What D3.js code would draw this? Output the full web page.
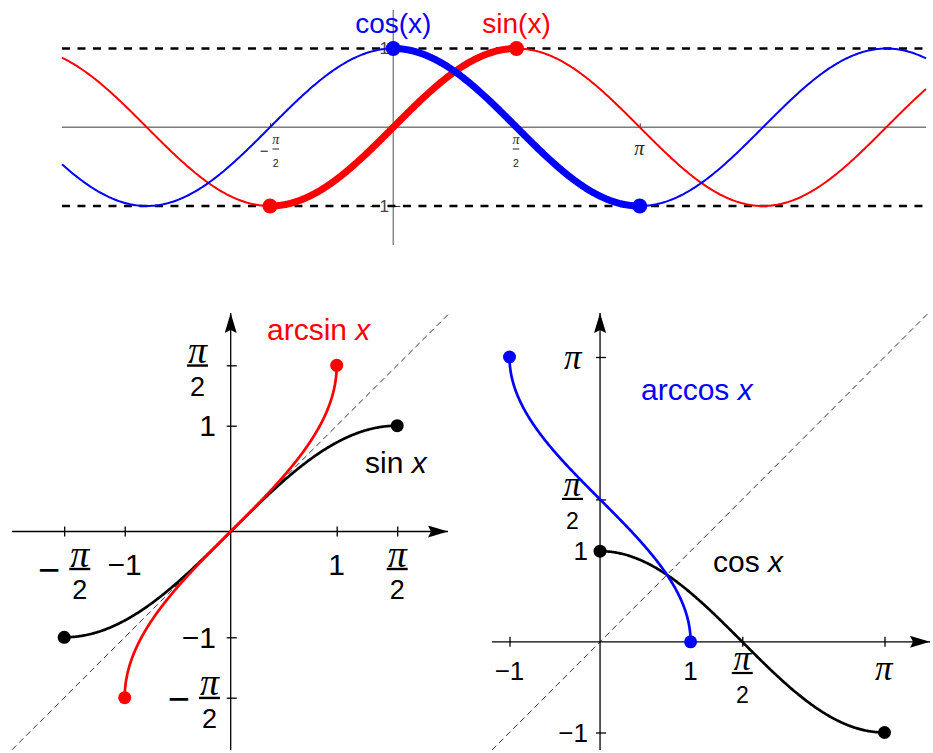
<!DOCTYPE html>
<html>
<head>
<meta charset="utf-8">
<script src="https://cdn.jsdelivr.net/npm/d3@7"></script>
<style>
  html, body { margin: 0; padding: 0; background: #fff; }
  svg { display: block; }
</style>
</head>
<body>
<svg id="chart" width="933" height="753"></svg>
<script>
const PI = Math.PI;

// ---- top panel: sin and cos over several periods ----
const waveXDomain = [-4.222, 6.79];
const waveXTicks = [-PI / 2, PI / 2, PI];
const waveXTickLabels = ["−π/2", "π/2", "π"];
const waveYTicks = [1, -1];
const waveYTickLabels = ["1", "−1"];
const waveGuides = [1, -1];                 // dashed lines y = ±1
const sinBranch = [-PI / 2, PI / 2];        // restricted domain of sin
const cosBranch = [0, PI];                  // restricted domain of cos
const waveTitles = ["cos(x)", "sin(x)"];
const waveTitleAt = [0, PI / 2];

// ---- bottom left: sin x and its inverse ----
const asXTicks = [-PI / 2, -1, 1, PI / 2];
const asXTickLabels = ["−π/2", "−1", "1", "π/2"];
const asYTicks = [PI / 2, 1, -1, -PI / 2];
const asYTickLabels = ["π/2", "1", "−1", "−π/2"];
const asBranch = [-PI / 2, PI / 2];

// ---- bottom right: cos x and its inverse ----
const acXTicks = [-1, 1, PI / 2, PI];
const acXTickLabels = ["−1", "1", "π/2", "π"];
const acYTicks = [PI, PI / 2, 1, -1];
const acYTickLabels = ["π", "π/2", "1", "−1"];
const acBranch = [0, PI];

const RED = "#ff0000", BLUE = "#0000ff", BLACK = "#000000";
const SANS = "'Liberation Sans', Arial, Helvetica, sans-serif";
const SERIF = "'Liberation Serif', 'Times New Roman', serif";

const svg = d3.select("#chart");

// arrow heads for the bottom axes
svg.append("defs").append("marker")
  .attr("id", "arrow")
  .attr("viewBox", "0 0 20 12")
  .attr("refX", 20).attr("refY", 6)
  .attr("markerWidth", 20).attr("markerHeight", 12)
  .attr("markerUnits", "userSpaceOnUse")
  .attr("orient", "auto")
  .append("path").attr("d", "M0,0 L20,6 L0,12 L3,6 Z").attr("fill", BLACK);

// parametric sampling of a curve t -> [x(t), y(t)]
function trace(fx, fy, [a, b], n = 300) {
  return d3.range(n + 1).map(i => {
    const t = a + (b - a) * i / n;
    return [fx(t), fy(t)];
  });
}

// tick label: plain text, or a stacked fraction such as "π/2"
function makeLabel(g, label, st) {
  const grp = g.append("g");
  const neg = label.startsWith("−");
  const body = neg ? label.slice(1) : label;
  let kind = "plain";
  if (body.includes("/")) {
    kind = neg ? "negfrac" : "frac";
    const [num, den] = body.split("/");
    const part = (s, y) => {
      const t = grp.append("text").attr("x", 0).attr("y", y)
        .attr("text-anchor", "middle").attr("fill", st.color);
      if (s === "π") t.style("font-family", SERIF).style("font-style", "italic")
        .style("font-size", st.fracPi + "px");
      else t.style("font-family", SANS).style("font-size", st.fracDigit + "px");
      t.text(s);
    };
    part(num, -st.numGap);
    part(den, st.denBase);
    grp.append("line")
      .attr("x1", -st.bar / 2).attr("x2", st.bar / 2)
      .attr("y1", 0).attr("y2", 0)
      .attr("stroke", st.color).attr("stroke-width", st.barW);
    if (neg) {
      grp.append("text")
        .attr("x", -st.bar / 2 - st.minusGap)
        .attr("y", st.minusDy)
        .attr("text-anchor", "end").attr("fill", st.color)
        .style("font-family", SANS).style("font-size", st.minusSize + "px")
        .text("−");
    }
  } else {
    const t = grp.append("text").attr("x", 0).attr("y", 0)
      .attr("text-anchor", "middle").attr("fill", st.color)
      .style("font-family", SANS).style("font-size", st.digit + "px");
    if (neg) t.append("tspan").text("−");
    if (body === "π") {
      kind = "pi";
      t.append("tspan").style("font-family", SERIF).style("font-style", "italic")
        .style("font-size", st.piSolo + "px").text("π");
    } else {
      t.append("tspan").text(body);
    }
  }
  return { grp, kind };
}

function xLabels(g, ticks, labels, scale, st) {
  ticks.forEach((v, i) => {
    const { grp, kind } = makeLabel(g, labels[i], st);
    const bb = grp.node().getBBox();
    const dx = scale(v) - (bb.x + bb.width / 2);
    const dy = kind.endsWith("frac") ? st.base - st.barRaise : st.base;
    grp.attr("transform", `translate(${dx},${dy})`);
  });
}

function yLabels(g, ticks, labels, scale, st) {
  const shift = st.shift || {};
  ticks.forEach((v, i) => {
    const { grp, kind } = makeLabel(g, labels[i], st);
    const bb = grp.node().getBBox();
    const dx = st.right - (bb.x + bb.width) + (shift[kind] || 0);
    const dy = scale(v) - (bb.y + bb.height / 2);
    grp.attr("transform", `translate(${dx},${dy})`);
  });
}

// function name with italic variable, e.g. "arcsin x"
function fnLabel(g, name, x, y, color, size) {
  const t = g.append("text").attr("x", x).attr("y", y).attr("fill", color)
    .style("font-family", SANS).style("font-size", size + "px");
  t.append("tspan").text(name + " ");
  t.append("tspan").style("font-style", "italic").text("x");
}

/* =================== TOP PANEL =================== */
(function () {
  const g = svg.append("g");
  const x = d3.scaleLinear().domain([-PI / 2, PI / 2]).range([270, 516.5]);
  const y = d3.scaleLinear().domain([-1, 1]).range([206, 48.5]);
  const AXIS = "#7a7a7a";
  const [x0, x1] = waveXDomain.map(x);

  // axes
  g.append("line").attr("x1", x0).attr("x2", x1).attr("y1", y(0)).attr("y2", y(0))
    .attr("stroke", AXIS).attr("stroke-width", 1.3);
  g.append("line").attr("x1", x(0)).attr("x2", x(0)).attr("y1", 10).attr("y2", 245)
    .attr("stroke", AXIS).attr("stroke-width", 1.3);

  const xa = g.append("g").attr("transform", `translate(0,${y(0)})`)
    .call(d3.axisTop(x).tickValues(waveXTicks).tickSize(4).tickFormat(""));
  xa.select(".domain").remove();
  xa.selectAll(".tick line").attr("stroke", "#444");

  const ya = g.append("g").attr("transform", `translate(${x(0)},0)`)
    .call(d3.axisRight(y).tickValues(waveYTicks).tickSize(7).tickFormat(""));
  ya.select(".domain").remove();
  ya.selectAll(".tick line").attr("stroke", "#333");

  xLabels(g, waveXTicks, waveXTickLabels, x, {
    color: "#222", base: 155, barRaise: 6, digit: 14, piSolo: 20,
    fracDigit: 10.5, fracPi: 14, numGap: 5, denBase: 18, bar: 6.5, barW: 1,
    minusSize: 15, minusGap: 4, minusDy: 7
  });
  yLabels(g, waveYTicks, waveYTickLabels, y, { color: "#444", digit: 17, right: 389 });

  // dashed guides at ±1
  g.selectAll(".guide").data(waveGuides).join("line")
    .attr("x1", x0).attr("x2", x1).attr("y1", d => y(d)).attr("y2", d => y(d))
    .attr("stroke", BLACK).attr("stroke-width", 2.6).attr("stroke-dasharray", "8,7.5");

  const line = d3.line().x(d => x(d[0])).y(d => y(d[1]));
  const id = t => t;

  // full-period thin curves
  g.append("path").datum(trace(id, Math.sin, waveXDomain, 600)).attr("d", line)
    .attr("fill", "none").attr("stroke", RED).attr("stroke-width", 2);
  g.append("path").datum(trace(id, Math.cos, waveXDomain, 600)).attr("d", line)
    .attr("fill", "none").attr("stroke", BLUE).attr("stroke-width", 2);

  // restricted (invertible) pieces
  g.append("path").datum(trace(id, Math.sin, sinBranch)).attr("d", line)
    .attr("fill", "none").attr("stroke", RED).attr("stroke-width", 7);
  g.append("path").datum(trace(id, Math.cos, cosBranch)).attr("d", line)
    .attr("fill", "none").attr("stroke", BLUE).attr("stroke-width", 7);

  sinBranch.forEach(t => g.append("circle").attr("cx", x(t)).attr("cy", y(Math.sin(t))).attr("r", 7.5).attr("fill", RED));
  cosBranch.forEach(t => g.append("circle").attr("cx", x(t)).attr("cy", y(Math.cos(t))).attr("r", 7.5).attr("fill", BLUE));

  const colors = [BLUE, RED];
  waveTitles.forEach((s, i) => g.append("text")
    .attr("x", x(waveTitleAt[i])).attr("y", 33).attr("text-anchor", "middle")
    .attr("fill", colors[i]).style("font-family", SANS).style("font-size", "28px").text(s));
})();

/* =================== BOTTOM LEFT =================== */
(function () {
  const g = svg.append("g");
  const x = d3.scaleLinear().domain([-1, 1]).range([124.7, 336.7]);
  const y = d3.scaleLinear().domain([-1, 1]).range([637.3, 425.7]);
  const [L, R, T, B] = [12, 448, 313, 750];

  // y = x reference
  const d0 = x.invert(L), d1 = x.invert(450);
  g.append("line").attr("x1", x(d0)).attr("y1", y(d0)).attr("x2", x(d1)).attr("y2", y(d1))
    .attr("stroke", "#333").attr("stroke-width", 1).attr("stroke-dasharray", "6,4");

  g.append("line").attr("x1", L).attr("x2", R).attr("y1", y(0)).attr("y2", y(0))
    .attr("stroke", BLACK).attr("stroke-width", 1.3).attr("marker-end", "url(#arrow)");
  g.append("line").attr("x1", x(0)).attr("x2", x(0)).attr("y1", B).attr("y2", T)
    .attr("stroke", BLACK).attr("stroke-width", 1.3).attr("marker-end", "url(#arrow)");

  const xa = g.append("g").attr("transform", `translate(0,${y(0) + 5})`)
    .call(d3.axisTop(x).tickValues(asXTicks).tickSize(10).tickFormat(""));
  xa.select(".domain").remove();
  xa.selectAll(".tick line").attr("stroke-width", 1.3);
  const ya = g.append("g").attr("transform", `translate(${x(0) - 4},0)`)
    .call(d3.axisRight(y).tickValues(asYTicks).tickSize(10).tickFormat(""));
  ya.select(".domain").remove();
  ya.selectAll(".tick line").attr("stroke-width", 1.3);

  const lab = {
    color: BLACK, digit: 30, piSolo: 38, fracDigit: 27, fracPi: 38,
    numGap: 2.5, denBase: 30, bar: 21, barW: 2.4,
    minusSize: 38, minusGap: 9, minusDy: 14
  };
  xLabels(g, asXTicks, asXTickLabels, x, Object.assign({ base: 575, barRaise: 6 }, lab));
  yLabels(g, asYTicks, asYTickLabels, y,
    Object.assign({ right: 216, shift: { frac: -8, negfrac: 4 } }, lab));

  const line = d3.line().x(d => x(d[0])).y(d => y(d[1]));
  const sinPts = trace(t => t, Math.sin, asBranch);
  const asinPts = trace(Math.sin, t => t, asBranch);
  g.append("path").datum(sinPts).attr("d", line).attr("fill", "none")
    .attr("stroke", BLACK).attr("stroke-width", 2.7);
  g.append("path").datum(asinPts).attr("d", line).attr("fill", "none")
    .attr("stroke", RED).attr("stroke-width", 2.7);
  [sinPts[0], sinPts[sinPts.length - 1]].forEach(p =>
    g.append("circle").attr("cx", x(p[0])).attr("cy", y(p[1])).attr("r", 6.5).attr("fill", BLACK));
  [asinPts[0], asinPts[asinPts.length - 1]].forEach(p =>
    g.append("circle").attr("cx", x(p[0])).attr("cy", y(p[1])).attr("r", 6.5).attr("fill", RED));

  fnLabel(g, "arcsin", 267, 340, RED, 30);
  fnLabel(g, "sin", 365, 473, BLACK, 30);
})();

/* =================== BOTTOM RIGHT =================== */
(function () {
  const g = svg.append("g");
  const x = d3.scaleLinear().domain([-1, PI]).range([509.5, 884.5]);
  const y = d3.scaleLinear().domain([-1, PI]).range([732.5, 357]);
  const [L, R, T, B] = [492, 930, 313, 750];

  const d0 = x.invert(L), d1 = x.invert(930);
  g.append("line").attr("x1", x(d0)).attr("y1", y(d0)).attr("x2", x(d1)).attr("y2", y(d1))
    .attr("stroke", "#333").attr("stroke-width", 1).attr("stroke-dasharray", "6,4");

  g.append("line").attr("x1", L).attr("x2", R).attr("y1", y(0)).attr("y2", y(0))
    .attr("stroke", BLACK).attr("stroke-width", 1.3).attr("marker-end", "url(#arrow)");
  g.append("line").attr("x1", x(0)).attr("x2", x(0)).attr("y1", B).attr("y2", T)
    .attr("stroke", BLACK).attr("stroke-width", 1.3).attr("marker-end", "url(#arrow)");

  const xa = g.append("g").attr("transform", `translate(0,${y(0) + 5})`)
    .call(d3.axisTop(x).tickValues(acXTicks).tickSize(10).tickFormat(""));
  xa.select(".domain").remove();
  xa.selectAll(".tick line").attr("stroke-width", 1.3);
  const ya = g.append("g").attr("transform", `translate(${x(0) - 4},0)`)
    .call(d3.axisRight(y).tickValues(acYTicks).tickSize(10).tickFormat(""));
  ya.select(".domain").remove();
  ya.selectAll(".tick line").attr("stroke-width", 1.3);

  const lab = {
    color: BLACK, digit: 26, piSolo: 35, fracDigit: 23, fracPi: 35,
    numGap: 3, denBase: 30, bar: 21, barW: 2.2,
    minusSize: 32, minusGap: 8, minusDy: 12
  };
  xLabels(g, acXTicks, acXTickLabels, x, Object.assign({ base: 680, barRaise: 7 }, lab));
  yLabels(g, acYTicks, acYTickLabels, y,
    Object.assign({ right: 588, shift: { frac: -5, pi: -5 } }, lab));

  const line = d3.line().x(d => x(d[0])).y(d => y(d[1]));
  const cosPts = trace(t => t, Math.cos, acBranch);
  const acosPts = trace(Math.cos, t => t, acBranch);
  g.append("path").datum(cosPts).attr("d", line).attr("fill", "none")
    .attr("stroke", BLACK).attr("stroke-width", 2.7);
  g.append("path").datum(acosPts).attr("d", line).attr("fill", "none")
    .attr("stroke", BLUE).attr("stroke-width", 2.7);
  [cosPts[0], cosPts[cosPts.length - 1]].forEach(p =>
    g.append("circle").attr("cx", x(p[0])).attr("cy", y(p[1])).attr("r", 6.5).attr("fill", BLACK));
  [acosPts[0], acosPts[acosPts.length - 1]].forEach(p =>
    g.append("circle").attr("cx", x(p[0])).attr("cy", y(p[1])).attr("r", 6.5).attr("fill", BLUE));

  fnLabel(g, "arccos", 641, 400, BLUE, 30);
  fnLabel(g, "cos", 713, 572, BLACK, 30);
})();
</script>
</body>
</html>
